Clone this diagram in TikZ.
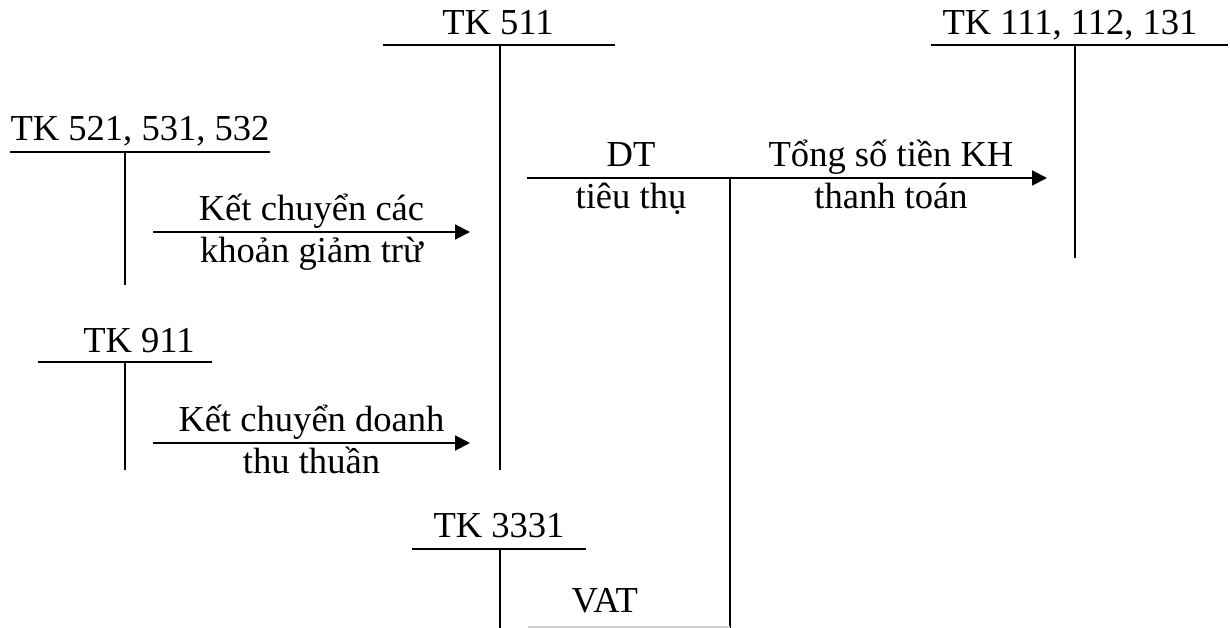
\documentclass[tikz,border=0pt]{standalone}
\usepackage{fontspec}
\setmainfont{Liberation Serif}
\usetikzlibrary{arrows.meta}

\begin{document}
\begin{tikzpicture}[x=0.025cm, y=-0.025cm, line width=1.4pt,
        every node/.style={font=\fontsize{26}{30}\selectfont, inner sep=0pt},
        title/.style={anchor=base},
        upper/.style={anchor=base, yshift=8pt},
        lower/.style={anchor=base, yshift=-21.5pt},
        flow/.style={-{Triangle[length=10.5pt, width=10.5pt]}}]
        \useasboundingbox (0,0) rectangle (1230,628);

        \node[title] (tk511) at (498, 35) {TK 511};
        \node[title] (tk111) at (1070, 35) {TK 111, 112, 131};
        \node[title] (tk521) at (140, 141) {TK 521, 531, 532};
        \node[title] (tk911) at (139, 353) {TK 911};
        \node[title] (tk3331) at (499, 538) {TK 3331};

        % T-account bars
        \draw (383, 45) -- (615, 45) (500, 45) -- (500, 470);
        \draw (931, 45) -- (1228, 45) (1075, 45) -- (1075, 258);
        \draw (10, 152) -- (270, 152) (125, 152) -- (125, 285);
        \draw (38, 362) -- (212, 362) (125, 362) -- (125, 470);
        \draw (412, 549) -- (586, 549) (500, 549) -- (500, 628);

        \coordinate (dtstart) at (527, 178);
        \coordinate (dtend) at (1047, 178);
        \coordinate (split) at (730, 178);
        \coordinate (splitend) at (730, 628);

        \begin{scope}[flow]
            \draw (153, 232) -- node[upper] {Kết chuyển các} node[lower] {khoản giảm trừ} (470, 232);
            \draw (153, 443) -- node[upper] {Kết chuyển doanh} node[lower] {thu thuần} (470, 443);
            \draw (dtstart) -- node[upper, pos=.2] {DT} node[lower, pos=.2] {tiêu thụ}
                node[upper, pos=.7] {Tổng số tiền KH} node[lower, pos=.7] {thanh toán} (dtend);
        \end{scope}
        \draw (split) -- (splitend);
        \draw[gray!35, line width=.8pt] (splitend |- 0, 627) -- node[upper, pos=.62, black, yshift=2pt] {VAT} (528, 627);
    \end{tikzpicture}
\end{document}
